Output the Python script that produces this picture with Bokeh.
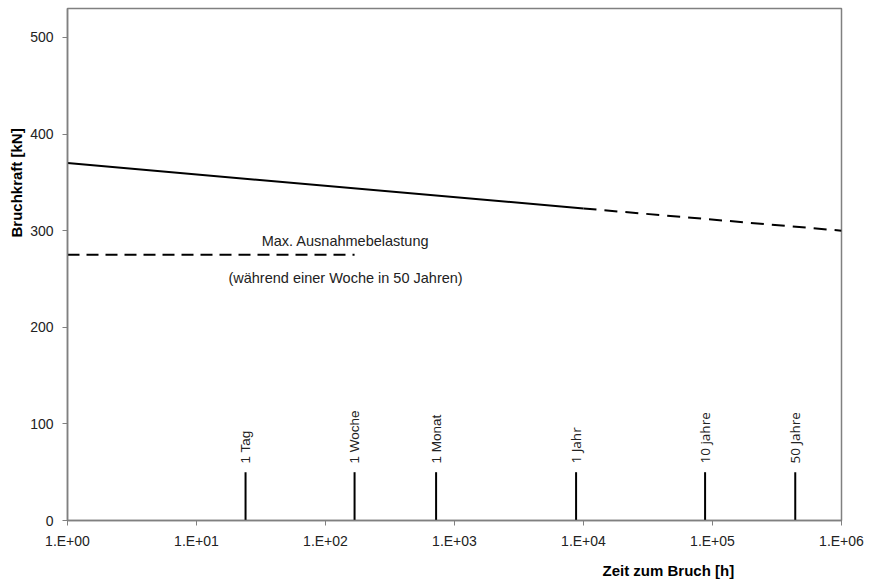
import math
from bokeh.plotting import figure
from bokeh.models import Range1d, FixedTicker, Label, ColumnDataSource, Title
from bokeh.embed import file_html
from bokeh.resources import INLINE

# Data
solid_hours = [1, 1e4]
solid_force = [370, 323]
dashed_hours = [1e4, 1e6]
dashed_force = [323, 300]
limit_hours = [1, 168]
limit_force = [275, 275]
marker_hours = [24, 168, 720, 8760, 87600, 438000]
marker_labels = ["1 Tag", "1 Woche", "1 Monat", "1 Jahr", "10 jahre", "50 Jahre"]
marker_fonts = ["Liberation Sans", "Liberation Sans", "Liberation Sans", "Open Sans", "Open Sans", "Open Sans"]
marker_height = 50
x_ticks = [1, 10, 100, 1000, 10000, 100000, 1000000]
x_tick_labels = ["1.E+00", "1.E+01", "1.E+02", "1.E+03", "1.E+04", "1.E+05", "1.E+06"]
y_ticks = [0, 100, 200, 300, 400, 500]

FONT = "Liberation Sans"
TXT = "#222222"

p = figure(width=875, height=586, x_axis_type="log", output_backend="svg",
           toolbar_location=None, x_range=Range1d(1, 1e6), y_range=Range1d(0, 530),
           min_border_left=67, min_border_right=34, min_border_top=8, min_border_bottom=66)
p.xgrid.visible = False
p.ygrid.visible = False
p.outline_line_color = "#808080"
p.outline_line_width = 1.5
p.background_fill_color = "white"
p.border_fill_color = "white"

p.xaxis.ticker = FixedTicker(ticks=x_ticks)
p.xaxis.major_label_overrides = {t: l for t, l in zip(x_ticks, x_tick_labels)}
p.yaxis.ticker = FixedTicker(ticks=y_ticks)
for ax in (p.xaxis, p.yaxis):
    ax.axis_line_color = "#808080"
    ax.axis_line_width = 1.5
    ax.major_tick_line_color = "#808080"
    ax.major_tick_out = 5
    ax.major_tick_in = 0
    ax.minor_tick_line_color = None
    ax.major_label_text_font = FONT
    ax.major_label_text_font_size = "14px"
    ax.major_label_text_color = TXT
p.yaxis.major_label_standoff = 9
p.xaxis.major_label_standoff = 7

p.line(solid_hours, solid_force, line_color="black", line_width=2)
p.line(dashed_hours, dashed_force, line_color="black", line_width=2, line_dash="13 8")
p.line(limit_hours, limit_force, line_color="black", line_width=2, line_dash="12 7")

src = ColumnDataSource(dict(x=marker_hours, y0=[0] * len(marker_hours),
                            y1=[marker_height] * len(marker_hours),
                            ty=[marker_height + 9] * len(marker_hours),
                            label=marker_labels, font=marker_fonts))
p.segment(x0="x", y0="y0", x1="x", y1="y1", source=src, line_color="black", line_width=2)
p.text(x="x", y="ty", text="label", source=src, angle=math.pi / 2,
       text_align="left", text_baseline="middle", text_font="font",
       text_font_size="13.5px", text_color=TXT)

p.add_layout(Label(x=143, y=289, text="Max. Ausnahmebelastung",
                   text_font=FONT, text_font_size="14.5px", text_align="center",
                   text_baseline="middle", text_color=TXT))
p.add_layout(Label(x=143, y=251, text="(während einer Woche in 50 Jahren)",
                   text_font=FONT, text_font_size="14.5px", text_align="center",
                   text_baseline="middle", text_color=TXT))

xt = Title(text="Zeit zum Bruch [h]", align="left", offset=535, text_font=FONT,
           text_font_size="15px", text_font_style="bold", text_color="#000000", standoff=16)
p.add_layout(xt, "below")
yt = Title(text="Bruchkraft [kN]", align="left", offset=283, text_font=FONT,
           text_font_size="15px", text_font_style="bold", text_color="#000000", standoff=6)
p.add_layout(yt, "left")

open("out.html", "w").write(file_html(p, INLINE))
